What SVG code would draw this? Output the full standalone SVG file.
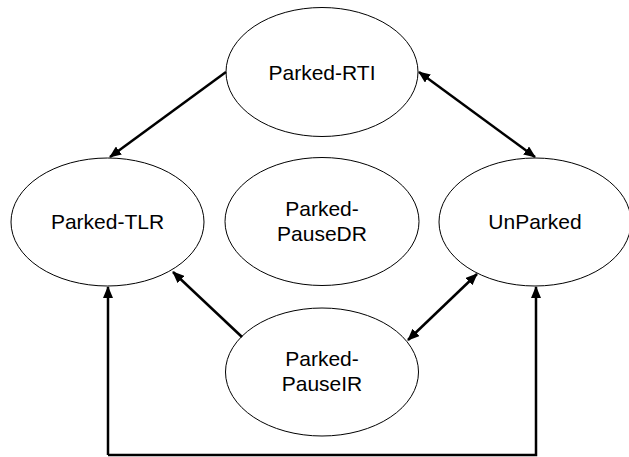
<svg xmlns="http://www.w3.org/2000/svg" width="629" height="457" viewBox="0 0 629 457">
<style>
.n ellipse{fill:#fff;stroke:#000;stroke-width:1}
.n text{font-family:"Liberation Sans",Arial,sans-serif;font-size:21px;fill:#000;text-anchor:middle}
.c path{fill:none;stroke:#000;stroke-width:2.5}
</style>
<defs>
<marker id="ah" markerWidth="12" markerHeight="10" refX="11" refY="5" orient="auto-start-reverse" markerUnits="userSpaceOnUse">
<path d="M0,0 L12,5 L0,10 Z" fill="#000"/>
</marker>
</defs>
<rect width="629" height="457" fill="#fff"/>
<g id="n-rti" class="n"><ellipse cx="322" cy="72" rx="96" ry="64.5"/><text x="322" y="79.5">Parked-RTI</text></g>
<g id="n-tlr" class="n"><ellipse cx="107.5" cy="222" rx="96.5" ry="64"/><text x="107.5" y="229">Parked-TLR</text></g>
<g id="n-pausedr" class="n"><ellipse cx="322" cy="221.5" rx="97" ry="64"/><text x="322" y="215.7">Parked-</text><text x="322" y="240.7">PauseDR</text></g>
<g id="n-unparked" class="n"><ellipse cx="535" cy="222" rx="96" ry="64"/><text x="535" y="229">UnParked</text></g>
<g id="n-pauseir" class="n"><ellipse cx="322" cy="372" rx="96.5" ry="64"/><text x="322" y="366">Parked-</text><text x="322" y="390.5">PauseIR</text></g>
<g id="connectors" class="c">
<path d="M226,72 L110,157" marker-end="url(#ah)"/>
<path d="M419,72 L535,157" marker-start="url(#ah)" marker-end="url(#ah)"/>
<path d="M242,337 L173,272" marker-end="url(#ah)"/>
<path d="M408,340 L477,274" marker-start="url(#ah)" marker-end="url(#ah)"/>
<path d="M108,455 L108,287" marker-end="url(#ah)"/>
<path d="M108,455 L536,455 L536,287" marker-end="url(#ah)"/>
</g>
</svg>
